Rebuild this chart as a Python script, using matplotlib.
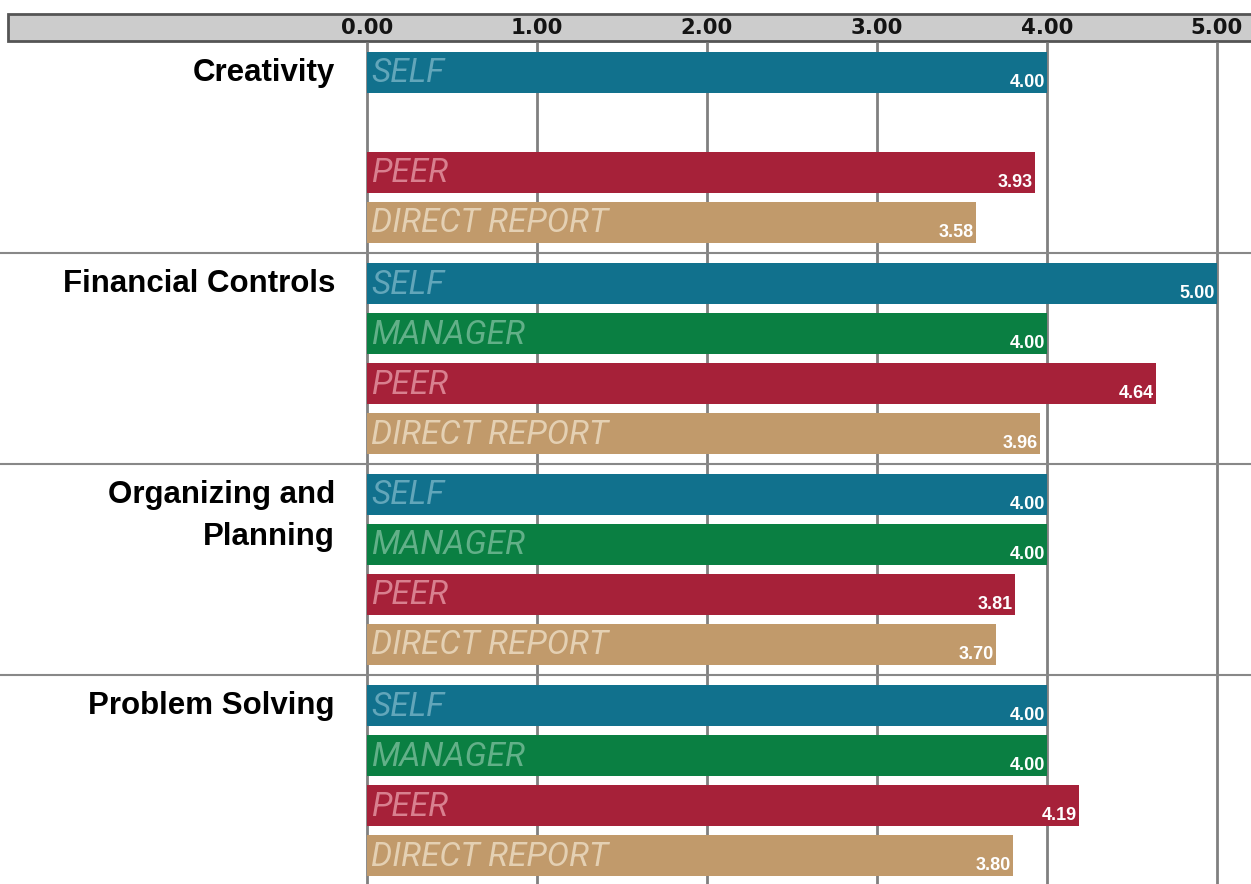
import matplotlib
matplotlib.use("Agg")
import matplotlib.pyplot as plt
from matplotlib.patches import Rectangle

categories = ["Creativity", "Financial Controls", "Organizing and\nPlanning", "Problem Solving"]
series = ["SELF", "MANAGER", "PEER", "DIRECT REPORT"]
values = {
    "SELF":          [4.00, 5.00, 4.00, 4.00],
    "MANAGER":       [None, 4.00, 4.00, 4.00],
    "PEER":          [3.93, 4.64, 3.81, 4.19],
    "DIRECT REPORT": [3.58, 3.96, 3.70, 3.80],
}
bar_colors = {"SELF": "#11718D", "MANAGER": "#0A7F42", "PEER": "#A62139", "DIRECT REPORT": "#C19A6B"}
label_colors = {"SELF": "#62A6BA", "MANAGER": "#62B088", "PEER": "#D8808F", "DIRECT REPORT": "#E4D0B3"}
xticks = [0, 1, 2, 3, 4, 5]
xticklabels = ["0.00", "1.00", "2.00", "3.00", "4.00", "5.00"]

W, H = 1251, 884
fig = plt.figure(figsize=(W / 100, H / 100), dpi=100)
ax = fig.add_axes([0, 0, 1, 1])
x0px, ppu = 367.0, 170.0
ax.set_xlim(-x0px / ppu, (W - x0px) / ppu)
ax.set_ylim(H, 0)
ax.axis("off")

def px2x(px):
    return (px - x0px) / ppu

# header band
ax.add_patch(Rectangle((px2x(8), 14), px2x(1262) - px2x(8), 27, facecolor="#CCCCCC",
                       edgecolor="#555555", linewidth=2, zorder=1, clip_on=False))
for t, lab in zip(xticks, xticklabels):
    ax.text(t, 28, lab, ha="center", va="center", fontsize=15.3, fontweight="bold",
            family="DejaVu Sans", color="#141414", zorder=3)

# vertical grid lines
for t in xticks:
    ax.plot([t, t], [42, H], color="#808080", linewidth=2, zorder=1, solid_capstyle="butt")

group_top0, group_pitch, slot_pitch, bar_h = 42, 211, 50, 41
for g in range(1, len(categories)):
    y = group_top0 + g * group_pitch
    ax.plot([px2x(0), px2x(W)], [y, y], color="#888888", linewidth=1.5, zorder=1)

for g, cat in enumerate(categories):
    gtop = group_top0 + g * group_pitch
    for i, line in enumerate(cat.split("\n")):
        ax.text(px2x(335), gtop + 39 + i * 42, line, ha="right", va="baseline", fontsize=22.5,
                fontweight="bold", family="Liberation Sans", color="black")
    for s, ser in enumerate(series):
        v = values[ser][g]
        if v is None:
            continue
        ytop = gtop + 10 + s * slot_pitch
        yc = ytop + bar_h / 2
        ax.barh(yc, v, height=bar_h, left=0, color=bar_colors[ser], zorder=2)
        ax.text(px2x(371), yc + 1, ser, ha="left", va="center", fontsize=24, style="italic",
                fontweight="normal", family="Roboto", color=label_colors[ser], zorder=3)
        ax.text(v - 2 / ppu, yc + 10, f"{v:.2f}", ha="right", va="center", fontsize=13,
                fontweight="bold", family="Liberation Sans", color="white", zorder=3)

fig.savefig("out.png", dpi=100)
